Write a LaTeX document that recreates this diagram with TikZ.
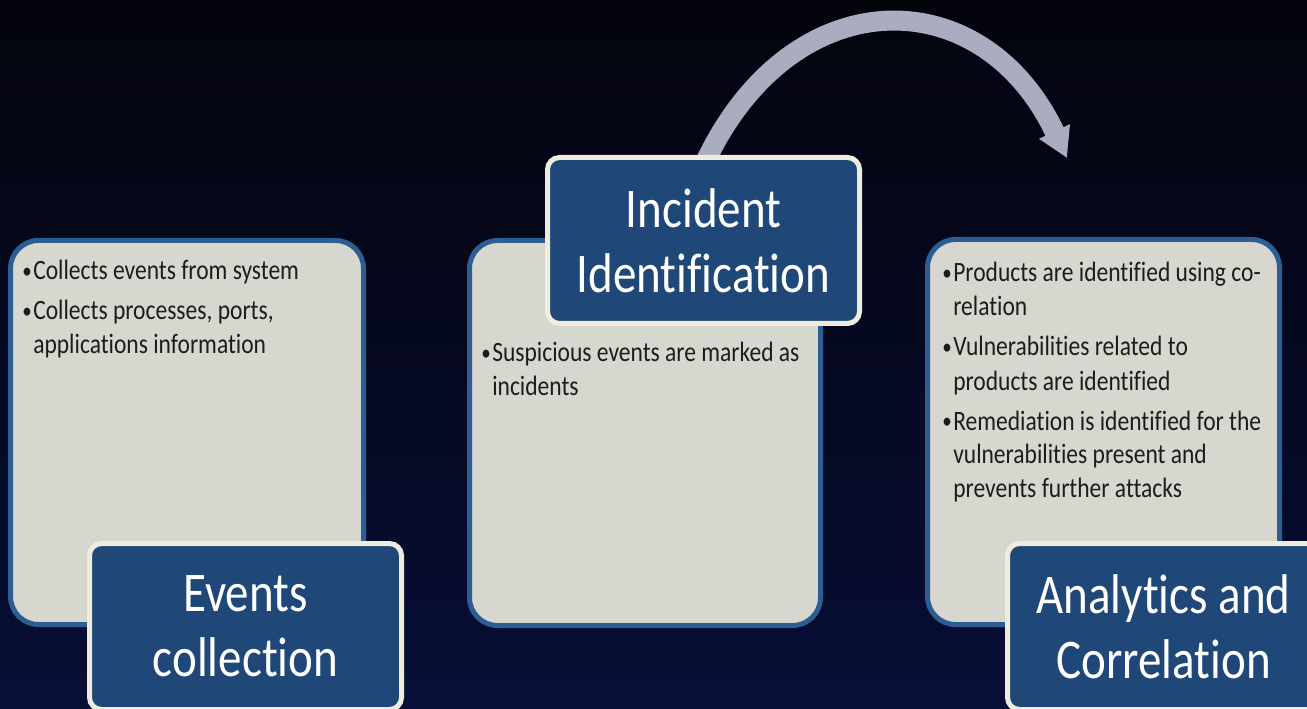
\documentclass[tikz,border=0pt]{standalone}
\usepackage{fontspec}
\setmainfont{Carlito}[FakeStretch=0.84, Ligatures={NoCommon}]
\usetikzlibrary{arrows.meta}
\definecolor{bgtop}{HTML}{03040C}
\definecolor{bgbot}{HTML}{080E36}
\definecolor{cardfill}{HTML}{D8D7CF}
\definecolor{cardedge}{HTML}{2D5E93}
\definecolor{titlefill}{HTML}{1F4778}
\definecolor{titleedge}{HTML}{EEECDD}
\definecolor{arcgray}{HTML}{A9ADBF}
\definecolor{bodyink}{HTML}{1C1C1C}
\pgfdeclarelayer{back}
\pgfsetlayers{back,main}
\newcommand{\bul}{\makebox[8.25pt][l]{\raisebox{1pt}{\fontsize{17pt}{17pt}\selectfont\textbullet}}}
\newcommand{\bitem}[1]{\hangindent=8.25pt\hangafter=1\noindent\bul #1\par}
\newcommand{\bgap}{\vspace{4.5pt}}
\newcommand{\bodyblock}[1]{\parbox[t]{300pt}{\fontsize{21pt}{25.5pt}\selectfont\setlength{\parskip}{0pt}\raggedright #1}}
\tikzset{
  card/.style={draw=cardedge, line width=3.75pt, fill=cardfill, rounded corners=21pt, inner sep=0pt},
  titlebox/.style={draw=titleedge, line width=3.75pt, fill=titlefill, rounded corners=9pt,
    minimum width=234pt, minimum height=124.5pt, inner sep=0pt, text=white, align=center,
    font=\fontsize{42pt}{48.75pt}\selectfont},
  bodytext/.style={anchor=base west, inner sep=0pt, text=bodyink},
  flowarc/.style={draw=arcgray, line width=15pt, -{Triangle[length=22pt,width=24pt]}},
}
\begin{document}
\begin{tikzpicture}[x=0.75pt,y=-0.75pt]
\useasboundingbox (0,0) rectangle (1307,709);
\begin{pgfonlayer}{back}
  \shade[top color=bgtop, bottom color=bgbot] (0,0) rectangle (1307,709);
\end{pgfonlayer}

% cards
\node[card, minimum width=264.75pt, minimum height=288pt] (c1) at (187,432.5) {};
\node[card, minimum width=263.25pt, minimum height=288.75pt] (c2) at (645,433) {};
\node[card, minimum width=264pt, minimum height=288.75pt] (c3) at (1103.5,432) {};

% bullet texts
\node[bodytext] (b1) at (22,280) {\bodyblock{%
  \bitem{Collects events from system}\bgap
  \bitem{Collects processes, ports,\newline applications information}}};
\node[bodytext] (b2) at (481,362) {\bodyblock{%
  \bitem{Suspicious events are marked as\newline incidents}}};
\node[bodytext] (b3) at (942,282) {\bodyblock{%
  \bitem{Products are identified using co-\newline relation}\bgap
  \bitem{Vulnerabilities related to\newline products are identified}\bgap
  \bitem{Remediation is identified for the\newline vulnerabilities present and\newline prevents further attacks}}};

% titles
\node[titlebox] (t1) at (245.5,626.5) {Events\\collection};
\node[titlebox] (t2) at (703.5,240.5) {Incident\\Identification};
\node[titlebox] (t3) at (1163.5,626.5) {Analytics and\\Correlation};

% arc arrow
\coordinate (arcend) at (1067,158);
\begin{pgfonlayer}{back}
  \draw[flowarc] ([yshift=-8pt]t2.north) .. controls (790,-22) and (982,-22) .. (arcend);
\end{pgfonlayer}
\end{tikzpicture}
\end{document}
